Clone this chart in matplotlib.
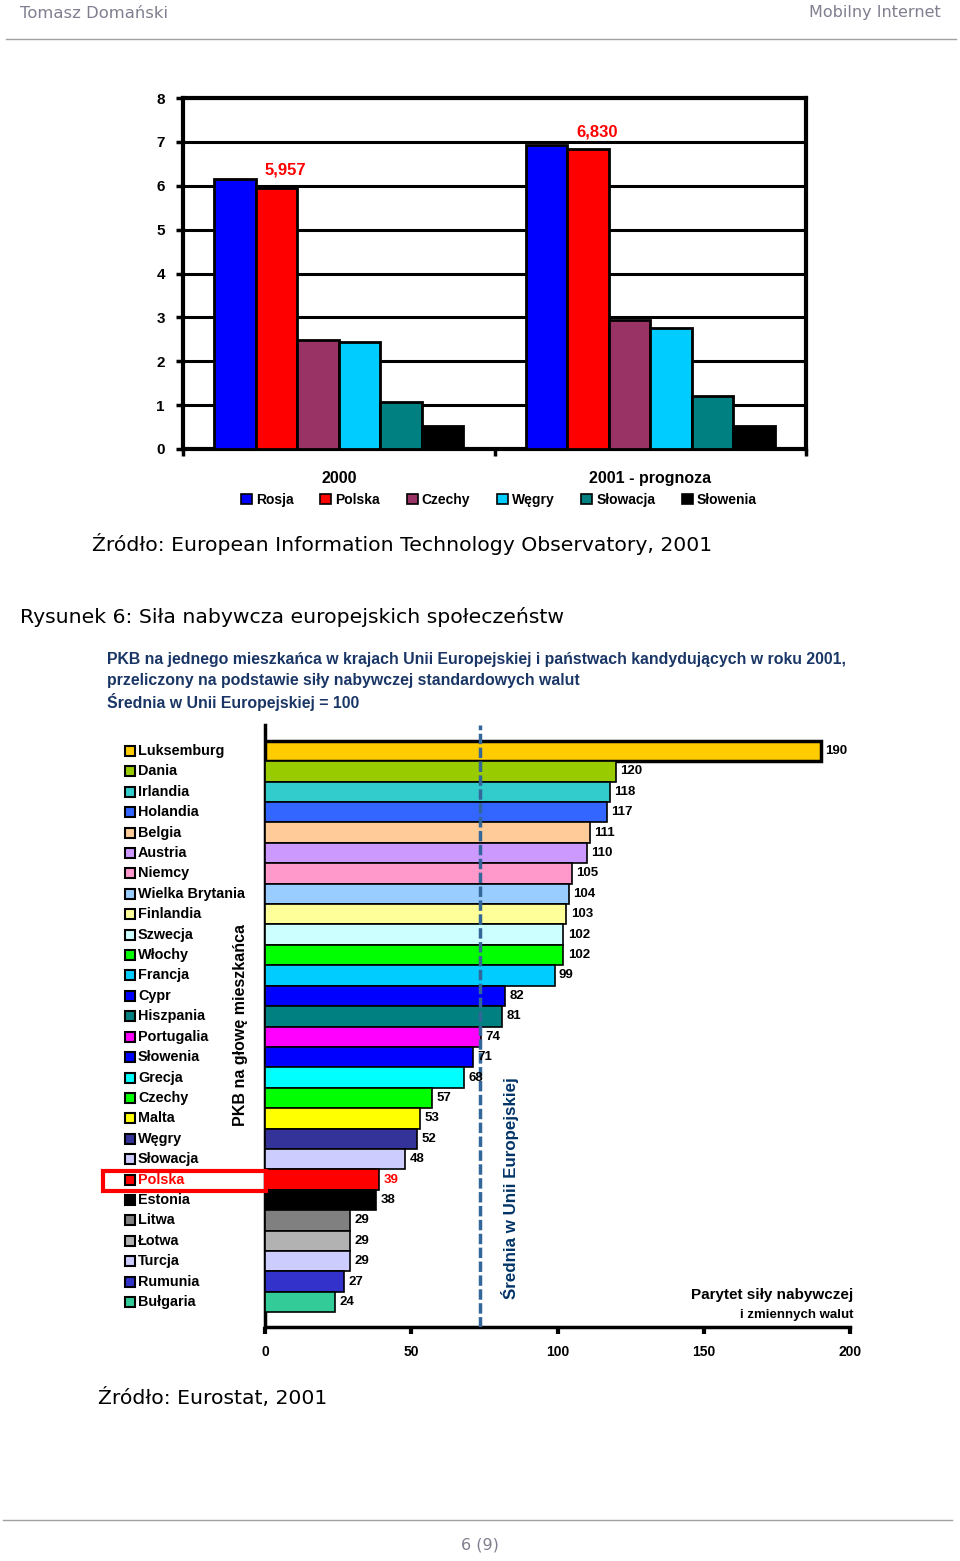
import matplotlib
matplotlib.use("Agg")
import matplotlib.pyplot as plt
import numpy as np
from matplotlib.patches import Patch, Rectangle
from matplotlib.lines import Line2D
from matplotlib.transforms import blended_transform_factory

# ---------------- data: top chart ----------------
periods = ["2000", "2001 - prognoza"]
countries_top = ["Rosja", "Polska", "Czechy", "Węgry", "Słowacja", "Słowenia"]
values_2000 = [6.15, 5.957, 2.48, 2.44, 1.07, 0.52]
values_2001 = [6.92, 6.830, 2.94, 2.76, 1.21, 0.52]
colors_top = ["#0000FF", "#FF0000", "#993366", "#00CCFF", "#008080", "#000000"]
annot_2000 = "5,957"
annot_2001 = "6,830"

# ---------------- data: bottom chart ----------------
countries = ["Luksemburg", "Dania", "Irlandia", "Holandia", "Belgia", "Austria",
             "Niemcy", "Wielka Brytania", "Finlandia", "Szwecja", "Włochy",
             "Francja", "Cypr", "Hiszpania", "Portugalia", "Słowenia", "Grecja",
             "Czechy", "Malta", "Węgry", "Słowacja", "Polska", "Estonia",
             "Litwa", "Łotwa", "Turcja", "Rumunia", "Bułgaria"]
gdp = [190, 120, 118, 117, 111, 110, 105, 104, 103, 102, 102, 99, 82, 81,
       74, 71, 68, 57, 53, 52, 48, 39, 38, 29, 29, 29, 27, 24]
gdp_labels = ["190", "120", "118", "117", "111", "110", "105", "104", "103",
              "102", "102", "99", "82", "81", "74", "71", "68", "57", "53",
              "52", "48", "39", "38", "29", "29", "29", "27", "24"]
bar_colors = ["#FFCC00", "#99CC00", "#33CCCC", "#3366FF", "#FFCC99", "#CC99FF",
              "#FF99CC", "#99CCFF", "#FFFF99", "#CCFFFF", "#00FF00", "#00CCFF",
              "#0000FF", "#008080", "#FF00FF", "#0000FF", "#00FFFF", "#00FF00",
              "#FFFF00", "#333399", "#CCCCFF", "#FF0000", "#000000", "#808080",
              "#B2B2B2", "#CCCCFF", "#3333CC", "#33CC99"]
x_ticks_bottom = [0, 50, 100, 150, 200]
eu_line_value = 73.5
highlight = "Polska"

W, H = 960, 1561
fig = plt.figure(figsize=(W / 100, H / 100), dpi=100)
fig.patch.set_facecolor("white")


def fx(px):
    return px / W


def fy(py):
    return 1 - py / H


page_font = "DejaVu Sans"
chart_font = "Liberation Sans"

# ---------------- page header / footer ----------------
fig.text(fx(20), fy(13), "Tomasz Domański", color="#7f7f8f", fontsize=11.8,
         family=page_font, va="center", ha="left")
fig.text(fx(941), fy(13), "Mobilny Internet", color="#7f7f8f", fontsize=11.5,
         family=page_font, va="center", ha="right")
fig.add_artist(Line2D([fx(6), fx(956)], [fy(39), fy(39)], color="#a0a0a0", lw=1))
fig.add_artist(Line2D([fx(3), fx(952)], [fy(1520), fy(1520)], color="#a0a0a0", lw=1))
fig.text(fx(480), fy(1545), "6 (9)", color="#7f7f8f", fontsize=11.5,
         family=page_font, va="center", ha="center")

fig.text(fx(92), fy(544), "Źródło: European Information Technology Observatory, 2001",
         fontsize=14.7, family=page_font, va="center", ha="left")
fig.text(fx(20), fy(617), "Rysunek 6: Siła nabywcza europejskich społeczeństw",
         fontsize=14.7, family=page_font, va="center", ha="left")
fig.text(fx(98), fy(1398), "Źródło: Eurostat, 2001",
         fontsize=14.7, family=page_font, va="center", ha="left")

# ---------------- top chart ----------------
ax1 = fig.add_axes([fx(183), fy(449), fx(806) - fx(183), fy(98) - fy(449)])
n = len(countries_top)
group_w = 0.8
bw = group_w / n
xc = np.arange(len(periods))
for k in range(n):
    vals = [values_2000[k], values_2001[k]]
    ax1.bar(xc - group_w / 2 + bw * (k + 0.5), vals, width=bw, color=colors_top[k],
            edgecolor="black", linewidth=2, zorder=3, label=countries_top[k])
ax1.set_xlim(-0.5, 1.5)
ax1.set_ylim(0, 8)
ax1.set_yticks(range(0, 9))
ax1.yaxis.grid(True, color="black", lw=2.2, zorder=0)
ax1.set_axisbelow(True)
for s in ax1.spines.values():
    s.set_linewidth(3)
ax1.tick_params(axis="y", direction="out", length=5, width=2.5, pad=8)
for lab in ax1.get_yticklabels():
    lab.set_fontweight("bold")
    lab.set_fontsize(11)
    lab.set_family(chart_font)
ax1.set_xticks(xc)
ax1.set_xticklabels(periods, fontweight="bold", fontsize=11.5, family=chart_font)
ax1.tick_params(axis="x", which="major", length=0, pad=16)
ax1.set_xticks([-0.5, 0.5, 1.5], minor=True)
ax1.tick_params(axis="x", which="minor", direction="out", length=5, width=2.5)
red_idx = 1
ax1.text(0 - group_w / 2 + bw * (red_idx + 0.5) + 0.03, values_2000[red_idx] + 0.4,
         annot_2000, color="#FF0000", fontweight="bold", fontsize=12,
         ha="center", va="center", family=chart_font)
ax1.text(1 - group_w / 2 + bw * (red_idx + 0.5) + 0.03, values_2001[red_idx] + 0.4,
         annot_2001, color="#FF0000", fontweight="bold", fontsize=12,
         ha="center", va="center", family=chart_font)

handles = [Patch(facecolor=c, edgecolor="black", lw=1.2) for c in colors_top]
fig.legend(handles, countries_top, loc="center", bbox_to_anchor=(fx(499), fy(500)),
           ncol=6, frameon=False, handlelength=0.8, handleheight=0.8,
           handletextpad=0.3, columnspacing=1.9,
           prop={"weight": "bold", "size": 10, "family": chart_font})

# ---------------- bottom chart ----------------
navy = "#1a3666"
title_lines = ["PKB na jednego mieszkańca w krajach Unii Europejskiej i państwach kandydujących w roku 2001,",
               "przeliczony na podstawie siły nabywczej standardowych walut",
               "Średnia w Unii Europejskiej = 100"]
for i, t in enumerate(title_lines):
    fig.text(fx(107), fy(660 + 21 * i), t, color=navy, fontsize=11.4,
             fontweight="bold", family=chart_font, va="center", ha="left")

ax2 = fig.add_axes([fx(265), fy(1327), fx(850) - fx(265), fy(725) - fy(1327)])
ypos = np.arange(len(countries))
lws = [2.5] + [1.2] * (len(countries) - 1)
ax2.barh(ypos, gdp, height=1.0, color=bar_colors, edgecolor="black",
         linewidth=lws, zorder=3)
ax2.set_xlim(0, 200)
ax2.set_ylim(len(countries) - 1 + 1.22, -1.27)
ax2.axvline(eu_line_value, color="#336699", lw=2.5, ls=(0, (3, 1)), zorder=4)
for i, (v, lab) in enumerate(zip(gdp, gdp_labels)):
    ax2.text(v + 1.5, i, lab, va="center", ha="left", fontsize=9.5,
             fontweight="bold", family=chart_font,
             color="#FF0000" if countries[i] == highlight else "black",
             clip_on=False, zorder=5)
for s in ["top", "right"]:
    ax2.spines[s].set_visible(False)
for s in ["left", "bottom"]:
    ax2.spines[s].set_linewidth(2.5)
ax2.set_yticks([])
ax2.set_xticks(x_ticks_bottom)
ax2.tick_params(axis="x", direction="out", length=5, width=3, pad=8)
for lab in ax2.get_xticklabels():
    lab.set_fontweight("bold")
    lab.set_fontsize(10)
    lab.set_family(chart_font)

# legend-like country list aligned with bars
trans = blended_transform_factory(fig.transFigure, ax2.transData)
for i, (c, col) in enumerate(zip(countries, bar_colors)):
    ax2.plot([fx(130)], [i], marker="s", markersize=6.5, markerfacecolor=col,
             markeredgecolor="black", markeredgewidth=1.5, transform=trans,
             clip_on=False, ls="none")
    ax2.text(fx(138), i, c, transform=trans, va="center", ha="left",
             fontsize=10.4, fontweight="bold", family=chart_font,
             color="#FF0000" if c == highlight else "black", clip_on=False)
fig.add_artist(Rectangle((fx(103), fy(1191)), fx(266) - fx(103), fy(1171) - fy(1191),
                         fill=False, edgecolor="#FF0000", lw=3))

fig.text(fx(241), fy(1025), "PKB na głowę mieszkańca", rotation=90, fontsize=11.5,
         fontweight="bold", family=chart_font, va="center", ha="center")
fig.text(fx(510), fy(1188), "Średnia w Unii Europejskiej", rotation=90, fontsize=12.2,
         fontweight="bold", family=chart_font, va="center", ha="center", color="#003366")
fig.text(fx(853), fy(1295), "Parytet siły nabywczej", fontsize=11,
         fontweight="bold", family=chart_font, va="center", ha="right")
fig.text(fx(853), fy(1315), "i zmiennych walut", fontsize=9.5,
         fontweight="bold", family=chart_font, va="center", ha="right")

fig.savefig("out.png", dpi=100)
